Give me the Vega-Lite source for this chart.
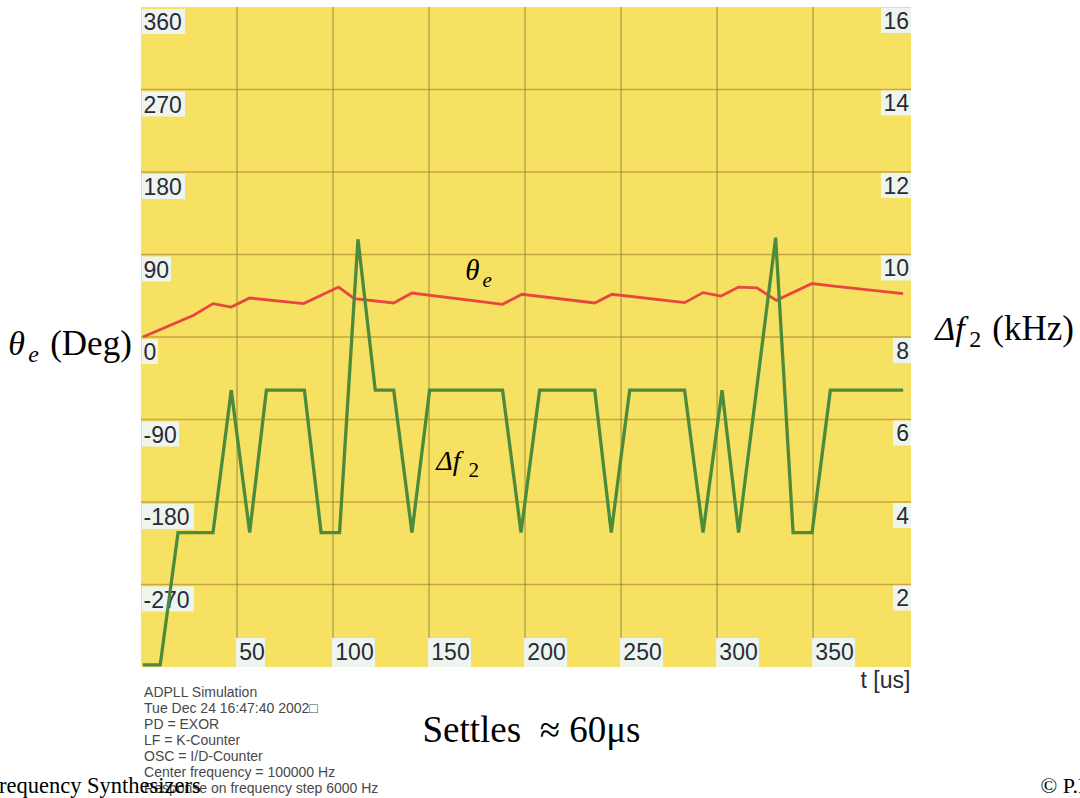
{
  "$schema": "https://vega.github.io/schema/vega-lite/v6.json",
  "width": 770,
  "height": 660,
  "autosize": {"type": "none"},
  "padding": {"left": 141, "top": 7, "right": 169, "bottom": 131},
  "background": "#ffffff",
  "config": {"view": {"fill": "#f6e162", "stroke": null}, "text": {"font": "Liberation Sans"}},
  "datasets": {
    "theta": [
      {"t": 1, "deg": 0}, {"t": 27.4, "deg": 23.7}, {"t": 37.5, "deg": 36.4}, {"t": 47, "deg": 32.7},
      {"t": 56.6, "deg": 42.5}, {"t": 84.7, "deg": 36.4}, {"t": 102.9, "deg": 54.5}, {"t": 111.1, "deg": 41.9},
      {"t": 131.6, "deg": 37.1}, {"t": 141.1, "deg": 48}, {"t": 188.3, "deg": 35.7}, {"t": 198.4, "deg": 46.6},
      {"t": 236.3, "deg": 37.1}, {"t": 245.3, "deg": 46.6}, {"t": 283.1, "deg": 37.5}, {"t": 292.7, "deg": 48.4},
      {"t": 302.1, "deg": 44.7}, {"t": 311.2, "deg": 54.5}, {"t": 320.8, "deg": 53.5}, {"t": 330.9, "deg": 40},
      {"t": 349.5, "deg": 58.3}, {"t": 360.7, "deg": 55.6}, {"t": 396.9, "deg": 47.3}
    ],
    "df2": [
      {"t": 1, "f": 0.05}, {"t": 10, "f": 0.05}, {"t": 19.3, "f": 3.26}, {"t": 37.5, "f": 3.26},
      {"t": 47, "f": 6.71}, {"t": 56.6, "f": 3.26}, {"t": 65.3, "f": 6.71}, {"t": 85.1, "f": 6.71},
      {"t": 93.8, "f": 3.26}, {"t": 103.4, "f": 3.26}, {"t": 113, "f": 10.37}, {"t": 122, "f": 6.71},
      {"t": 131.6, "f": 6.71}, {"t": 141.1, "f": 3.26}, {"t": 150.3, "f": 6.71}, {"t": 188.3, "f": 6.71},
      {"t": 197.9, "f": 3.26}, {"t": 207.6, "f": 6.71}, {"t": 236.3, "f": 6.71}, {"t": 244.9, "f": 3.26},
      {"t": 254.5, "f": 6.71}, {"t": 283.1, "f": 6.71}, {"t": 292.7, "f": 3.26}, {"t": 302.6, "f": 6.71},
      {"t": 311.2, "f": 3.26}, {"t": 330.5, "f": 10.41}, {"t": 339.6, "f": 3.26}, {"t": 349.5, "f": 3.26},
      {"t": 359, "f": 6.71}, {"t": 396.9, "f": 6.71}
    ],
    "ticks": [
      {"axis": "L", "v": 360, "label": "360"}, {"axis": "L", "v": 270, "label": "270"},
      {"axis": "L", "v": 180, "label": "180"}, {"axis": "L", "v": 90, "label": "90"},
      {"axis": "L", "v": 0, "label": "0"}, {"axis": "L", "v": -90, "label": "-90"},
      {"axis": "L", "v": -180, "label": "-180"}, {"axis": "L", "v": -270, "label": "-270"},
      {"axis": "R", "v": 16, "label": "16"}, {"axis": "R", "v": 14, "label": "14"},
      {"axis": "R", "v": 12, "label": "12"}, {"axis": "R", "v": 10, "label": "10"},
      {"axis": "R", "v": 8, "label": "8"}, {"axis": "R", "v": 6, "label": "6"},
      {"axis": "R", "v": 4, "label": "4"}, {"axis": "R", "v": 2, "label": "2"},
      {"axis": "X", "v": 50, "label": "50"}, {"axis": "X", "v": 100, "label": "100"},
      {"axis": "X", "v": 150, "label": "150"}, {"axis": "X", "v": 200, "label": "200"},
      {"axis": "X", "v": 250, "label": "250"}, {"axis": "X", "v": 300, "label": "300"},
      {"axis": "X", "v": 350, "label": "350"}
    ]
  },
  "resolve": {"scale": {"y": "independent"}},
  "layer": [
    {
      "layer": [
        {
          "data": {"name": "ticks"},
          "transform": [{"filter": "datum.axis === 'L' && datum.v < 360"}],
          "mark": {"type": "rule", "color": "#c09a3c", "strokeWidth": 1.3, "opacity": 0.85},
          "encoding": {
            "y": {"field": "v", "type": "quantitative", "scale": {"domain": [-360, 360], "nice": false, "zero": false}, "axis": null}
          }
        },
        {
          "data": {"name": "ticks"},
          "transform": [{"filter": "datum.axis === 'X'"}],
          "mark": {"type": "rule", "color": "#7c7a30", "strokeWidth": 1, "opacity": 0.8},
          "encoding": {
            "x": {"field": "v", "type": "quantitative", "scale": {"domain": [0, 401], "nice": false, "zero": false}, "axis": null}
          }
        },
        {
          "data": {"name": "ticks"},
          "transform": [{"filter": "datum.axis === 'L'"}],
          "mark": {"type": "point", "filled": true, "size": 4, "opacity": 1, "color": "#eef5ef", "strokeWidth": 0},
          "encoding": {
            "x": {"datum": 0, "type": "quantitative", "scale": {"domain": [0, 401], "nice": false, "zero": false}, "axis": null},
            "y": {"field": "v", "type": "quantitative", "scale": {"domain": [-360, 360], "nice": false, "zero": false}, "axis": null},
            "shape": {"field": "label", "type": "nominal", "legend": null,
              "scale": {"domain": ["360","270","180","90","0","-90","-180","-270","16","14","12","10","8","6","4","2","50","100","150","200","250","300","350"],
                "range": ["M1,2H44V27H1Z","M1,2H44V27H1Z","M1,2H44V27H1Z","M1,2H30V27H1Z","M1,2H17V27H1Z","M1,2H38V27H1Z","M1,2H53V27H1Z","M1,2H53V27H1Z","M-30,1H0V26H-30Z","M-30,1H0V26H-30Z","M-30,1H0V26H-30Z","M-30,1H0V26H-30Z","M-18,1H0V26H-18Z","M-18,1H0V26H-18Z","M-18,1H0V26H-18Z","M-18,1H0V26H-18Z","M-1,-29H28V0H-1Z","M-1,-29H42V0H-1Z","M-1,-29H42V0H-1Z","M-1,-29H42V0H-1Z","M-1,-29H42V0H-1Z","M-1,-29H42V0H-1Z","M-1,-29H42V0H-1Z"]}}
          }
        },
        {
          "data": {"name": "ticks"},
          "transform": [{"filter": "datum.axis === 'X'"}],
          "mark": {"type": "point", "filled": true, "size": 4, "opacity": 1, "color": "#eef5ef", "strokeWidth": 0},
          "encoding": {
            "x": {"field": "v", "type": "quantitative", "scale": {"domain": [0, 401], "nice": false, "zero": false}, "axis": null},
            "y": {"datum": -360, "type": "quantitative", "scale": {"domain": [-360, 360], "nice": false, "zero": false}, "axis": null},
            "shape": {"field": "label", "type": "nominal", "legend": null,
              "scale": {"domain": ["360","270","180","90","0","-90","-180","-270","16","14","12","10","8","6","4","2","50","100","150","200","250","300","350"],
                "range": ["M1,2H44V27H1Z","M1,2H44V27H1Z","M1,2H44V27H1Z","M1,2H30V27H1Z","M1,2H17V27H1Z","M1,2H38V27H1Z","M1,2H53V27H1Z","M1,2H53V27H1Z","M-30,1H0V26H-30Z","M-30,1H0V26H-30Z","M-30,1H0V26H-30Z","M-30,1H0V26H-30Z","M-18,1H0V26H-18Z","M-18,1H0V26H-18Z","M-18,1H0V26H-18Z","M-18,1H0V26H-18Z","M-1,-29H28V0H-1Z","M-1,-29H42V0H-1Z","M-1,-29H42V0H-1Z","M-1,-29H42V0H-1Z","M-1,-29H42V0H-1Z","M-1,-29H42V0H-1Z","M-1,-29H42V0H-1Z"]}}
          }
        },
        {
          "data": {"name": "ticks"},
          "transform": [{"filter": "datum.axis === 'L'"}],
          "mark": {"type": "text", "align": "left", "baseline": "alphabetic", "dx": 2.5, "dy": 23, "fontSize": 23, "color": "#2a2a36"},
          "encoding": {
            "x": {"datum": 0, "type": "quantitative", "scale": {"domain": [0, 401], "nice": false, "zero": false}, "axis": null},
            "y": {"field": "v", "type": "quantitative", "scale": {"domain": [-360, 360], "nice": false, "zero": false}, "axis": null},
            "text": {"field": "label"}
          }
        },
        {
          "data": {"name": "ticks"},
          "transform": [{"filter": "datum.axis === 'X'"}],
          "mark": {"type": "text", "align": "left", "baseline": "alphabetic", "dx": 2.3, "dy": -7.4, "fontSize": 23, "color": "#2a2a36"},
          "encoding": {
            "x": {"field": "v", "type": "quantitative", "scale": {"domain": [0, 401], "nice": false, "zero": false}, "axis": null},
            "y": {"datum": -360, "type": "quantitative", "scale": {"domain": [-360, 360], "nice": false, "zero": false}, "axis": null},
            "text": {"field": "label"}
          }
        },
        {
          "data": {"name": "theta"},
          "mark": {"type": "line", "color": "#e8463f", "strokeWidth": 2.8},
          "encoding": {
            "x": {"field": "t", "type": "quantitative", "scale": {"domain": [0, 401], "nice": false, "zero": false}, "axis": null},
            "y": {"field": "deg", "type": "quantitative", "scale": {"domain": [-360, 360], "nice": false, "zero": false}, "axis": null}
          }
        },
        {
          "data": {"values": [{}]},
          "mark": {"type": "text", "align": "left", "baseline": "alphabetic", "font": "Liberation Serif", "fontStyle": "italic", "fontSize": 34, "color": "#000000"},
          "encoding": {
            "x": {"datum": -69.1, "type": "quantitative", "scale": {"domain": [0, 401], "nice": false, "zero": false}, "axis": null},
            "y": {"datum": -20, "type": "quantitative", "scale": {"domain": [-360, 360], "nice": false, "zero": false}, "axis": null},
            "text": {"value": "θ"}
          }
        },
        {
          "data": {"values": [{}]},
          "mark": {"type": "text", "align": "left", "baseline": "alphabetic", "font": "Liberation Serif", "fontStyle": "italic", "fontSize": 24, "color": "#000000"},
          "encoding": {
            "x": {"datum": -58.7, "type": "quantitative", "scale": {"domain": [0, 401], "nice": false, "zero": false}, "axis": null},
            "y": {"datum": -27.6, "type": "quantitative", "scale": {"domain": [-360, 360], "nice": false, "zero": false}, "axis": null},
            "text": {"value": "e"}
          }
        },
        {
          "data": {"values": [{}]},
          "mark": {"type": "text", "align": "left", "baseline": "alphabetic", "font": "Liberation Serif", "fontSize": 35, "color": "#000000"},
          "encoding": {
            "x": {"datum": -47.3, "type": "quantitative", "scale": {"domain": [0, 401], "nice": false, "zero": false}, "axis": null},
            "y": {"datum": -20, "type": "quantitative", "scale": {"domain": [-360, 360], "nice": false, "zero": false}, "axis": null},
            "text": {"value": "(Deg)"}
          }
        },
        {
          "data": {"values": [{}]},
          "mark": {"type": "text", "align": "left", "baseline": "alphabetic", "font": "Liberation Serif", "fontStyle": "italic", "fontSize": 34, "color": "#000000"},
          "encoding": {
            "x": {"datum": 413.6, "type": "quantitative", "scale": {"domain": [0, 401], "nice": false, "zero": false}, "axis": null},
            "y": {"datum": -3.6, "type": "quantitative", "scale": {"domain": [-360, 360], "nice": false, "zero": false}, "axis": null},
            "text": {"value": "Δf"}
          }
        },
        {
          "data": {"values": [{}]},
          "mark": {"type": "text", "align": "left", "baseline": "alphabetic", "font": "Liberation Serif", "fontSize": 24, "color": "#000000"},
          "encoding": {
            "x": {"datum": 431.4, "type": "quantitative", "scale": {"domain": [0, 401], "nice": false, "zero": false}, "axis": null},
            "y": {"datum": -11.2, "type": "quantitative", "scale": {"domain": [-360, 360], "nice": false, "zero": false}, "axis": null},
            "text": {"value": "2"}
          }
        },
        {
          "data": {"values": [{}]},
          "mark": {"type": "text", "align": "left", "baseline": "alphabetic", "font": "Liberation Serif", "fontSize": 35, "color": "#000000"},
          "encoding": {
            "x": {"datum": 443.3, "type": "quantitative", "scale": {"domain": [0, 401], "nice": false, "zero": false}, "axis": null},
            "y": {"datum": -3.6, "type": "quantitative", "scale": {"domain": [-360, 360], "nice": false, "zero": false}, "axis": null},
            "text": {"value": "(kHz)"}
          }
        },
        {
          "data": {"values": [{}]},
          "mark": {"type": "text", "align": "left", "baseline": "alphabetic", "font": "Liberation Serif", "fontStyle": "italic", "fontSize": 29, "color": "#000000"},
          "encoding": {
            "x": {"datum": 168.9, "type": "quantitative", "scale": {"domain": [0, 401], "nice": false, "zero": false}, "axis": null},
            "y": {"datum": 61.9, "type": "quantitative", "scale": {"domain": [-360, 360], "nice": false, "zero": false}, "axis": null},
            "text": {"value": "θ"}
          }
        },
        {
          "data": {"values": [{}]},
          "mark": {"type": "text", "align": "left", "baseline": "alphabetic", "font": "Liberation Serif", "fontStyle": "italic", "fontSize": 21, "color": "#000000"},
          "encoding": {
            "x": {"datum": 177.8, "type": "quantitative", "scale": {"domain": [0, 401], "nice": false, "zero": false}, "axis": null},
            "y": {"datum": 54.2, "type": "quantitative", "scale": {"domain": [-360, 360], "nice": false, "zero": false}, "axis": null},
            "text": {"value": "e"}
          }
        },
        {
          "data": {"values": [{}]},
          "mark": {"type": "text", "align": "left", "baseline": "alphabetic", "font": "Liberation Serif", "fontStyle": "italic", "fontSize": 28, "color": "#000000"},
          "encoding": {
            "x": {"datum": 153.8, "type": "quantitative", "scale": {"domain": [0, 401], "nice": false, "zero": false}, "axis": null},
            "y": {"datum": -145.4, "type": "quantitative", "scale": {"domain": [-360, 360], "nice": false, "zero": false}, "axis": null},
            "text": {"value": "Δf"}
          }
        },
        {
          "data": {"values": [{}]},
          "mark": {"type": "text", "align": "left", "baseline": "alphabetic", "font": "Liberation Serif", "fontSize": 21, "color": "#000000"},
          "encoding": {
            "x": {"datum": 170.5, "type": "quantitative", "scale": {"domain": [0, 401], "nice": false, "zero": false}, "axis": null},
            "y": {"datum": -152.7, "type": "quantitative", "scale": {"domain": [-360, 360], "nice": false, "zero": false}, "axis": null},
            "text": {"value": "2"}
          }
        },
        {
          "data": {"values": [{}]},
          "mark": {"type": "text", "align": "left", "baseline": "alphabetic", "font": "Liberation Serif", "fontSize": 37, "color": "#000000"},
          "encoding": {
            "x": {"datum": 146.6, "type": "quantitative", "scale": {"domain": [0, 401], "nice": false, "zero": false}, "axis": null},
            "y": {"datum": -441.3, "type": "quantitative", "scale": {"domain": [-360, 360], "nice": false, "zero": false}, "axis": null},
            "text": {"value": "Settles \u00a0≈ 60μs"}
          }
        },
        {
          "data": {"values": [{}]},
          "mark": {"type": "text", "align": "left", "baseline": "alphabetic", "fontSize": 14, "lineHeight": 16.1, "color": "#484848"},
          "encoding": {
            "x": {"datum": 1.6, "type": "quantitative", "scale": {"domain": [0, 401], "nice": false, "zero": false}, "axis": null},
            "y": {"datum": -392.4, "type": "quantitative", "scale": {"domain": [-360, 360], "nice": false, "zero": false}, "axis": null},
            "text": {"value": ["ADPLL Simulation", "Tue Dec 24 16:47:40 2002□", "PD = EXOR", "LF = K-Counter", "OSC = I/D-Counter", "Center frequency = 100000 Hz", "Response on frequency step 6000 Hz"]}
          }
        },
        {
          "data": {"values": [{}]},
          "mark": {"type": "text", "align": "right", "baseline": "alphabetic", "fontSize": 23, "color": "#2a2a36"},
          "encoding": {
            "x": {"datum": 400.7, "type": "quantitative", "scale": {"domain": [0, 401], "nice": false, "zero": false}, "axis": null},
            "y": {"datum": -383.2, "type": "quantitative", "scale": {"domain": [-360, 360], "nice": false, "zero": false}, "axis": null},
            "text": {"value": "t [us]"}
          }
        },
        {
          "data": {"values": [{}]},
          "mark": {"type": "text", "align": "left", "baseline": "alphabetic", "font": "Liberation Serif", "fontSize": 22.5, "color": "#000000"},
          "encoding": {
            "x": {"datum": -80.5, "type": "quantitative", "scale": {"domain": [0, 401], "nice": false, "zero": false}, "axis": null},
            "y": {"datum": -497.8, "type": "quantitative", "scale": {"domain": [-360, 360], "nice": false, "zero": false}, "axis": null},
            "text": {"value": "Frequency Synthesizers"}
          }
        },
        {
          "data": {"values": [{}]},
          "mark": {"type": "text", "align": "left", "baseline": "alphabetic", "font": "Liberation Serif", "fontSize": 22, "color": "#000000"},
          "encoding": {
            "x": {"datum": 468.4, "type": "quantitative", "scale": {"domain": [0, 401], "nice": false, "zero": false}, "axis": null},
            "y": {"datum": -497.8, "type": "quantitative", "scale": {"domain": [-360, 360], "nice": false, "zero": false}, "axis": null},
            "text": {"value": "© P.L"}
          }
        }
      ]
    },
    {
      "layer": [
        {
          "data": {"name": "ticks"},
          "transform": [{"filter": "datum.axis === 'R'"}],
          "mark": {"type": "point", "filled": true, "size": 4, "opacity": 1, "color": "#eef5ef", "strokeWidth": 0},
          "encoding": {
            "x": {"datum": 401, "type": "quantitative", "scale": {"domain": [0, 401], "nice": false, "zero": false}, "axis": null},
            "y": {"field": "v", "type": "quantitative", "scale": {"domain": [0, 16], "nice": false, "zero": false}, "axis": null},
            "shape": {"field": "label", "type": "nominal", "legend": null,
              "scale": {"domain": ["360","270","180","90","0","-90","-180","-270","16","14","12","10","8","6","4","2","50","100","150","200","250","300","350"],
                "range": ["M1,2H44V27H1Z","M1,2H44V27H1Z","M1,2H44V27H1Z","M1,2H30V27H1Z","M1,2H17V27H1Z","M1,2H38V27H1Z","M1,2H53V27H1Z","M1,2H53V27H1Z","M-30,1H0V26H-30Z","M-30,1H0V26H-30Z","M-30,1H0V26H-30Z","M-30,1H0V26H-30Z","M-18,1H0V26H-18Z","M-18,1H0V26H-18Z","M-18,1H0V26H-18Z","M-18,1H0V26H-18Z","M-1,-29H28V0H-1Z","M-1,-29H42V0H-1Z","M-1,-29H42V0H-1Z","M-1,-29H42V0H-1Z","M-1,-29H42V0H-1Z","M-1,-29H42V0H-1Z","M-1,-29H42V0H-1Z"]}}
          }
        },
        {
          "data": {"name": "ticks"},
          "transform": [{"filter": "datum.axis === 'R'"}],
          "mark": {"type": "text", "align": "right", "baseline": "alphabetic", "dx": -2, "dy": 21.5, "fontSize": 23, "color": "#2a2a36"},
          "encoding": {
            "x": {"datum": 401, "type": "quantitative", "scale": {"domain": [0, 401], "nice": false, "zero": false}, "axis": null},
            "y": {"field": "v", "type": "quantitative", "scale": {"domain": [0, 16], "nice": false, "zero": false}, "axis": null},
            "text": {"field": "label"}
          }
        },
        {
          "data": {"name": "df2"},
          "mark": {"type": "line", "color": "#4c8b3b", "strokeWidth": 3.3},
          "encoding": {
            "x": {"field": "t", "type": "quantitative", "scale": {"domain": [0, 401], "nice": false, "zero": false}, "axis": null},
            "y": {"field": "f", "type": "quantitative", "scale": {"domain": [0, 16], "nice": false, "zero": false}, "axis": null}
          }
        }
      ]
    }
  ]
}
